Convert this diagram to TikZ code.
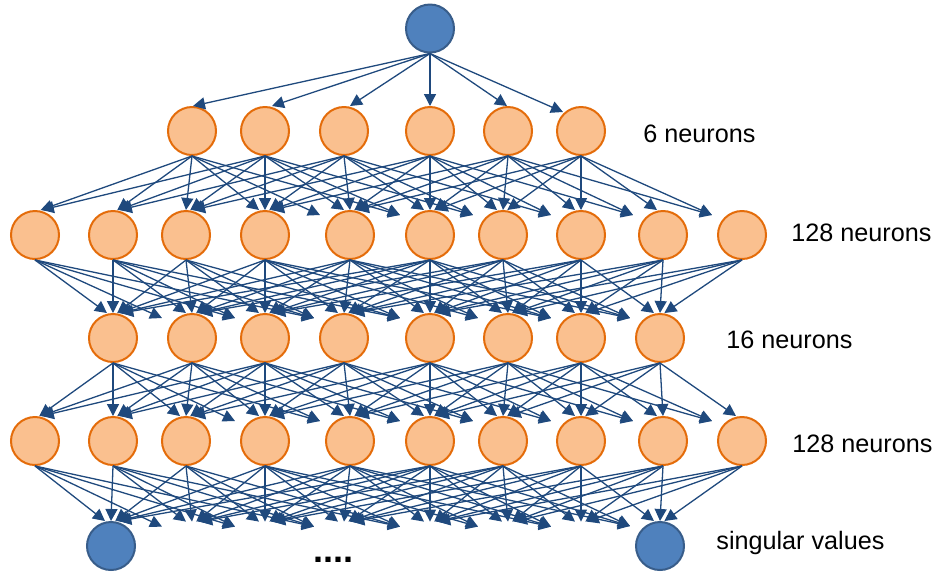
\documentclass[tikz,border=0pt]{standalone}
\usepackage{fontspec}
\setmainfont{Liberation Sans}
\usetikzlibrary{arrows.meta}
\definecolor{conncol}{RGB}{31,73,125}
\definecolor{orfill}{RGB}{250,192,143}
\definecolor{ordraw}{RGB}{228,108,10}
\definecolor{blfill}{RGB}{79,129,189}
\definecolor{bldraw}{RGB}{56,93,138}
\newcommand\linklayer[5]{%
  \foreach \sx [count=\i] in {#2} {
    \foreach \tx [count=\j] in {#4} {
      \pgfmathsetmacro\ddx{\tx-\sx}
      \pgfmathtruncatemacro\okq{abs(\ddx)<=#5 ? 1 : 0}
      \ifnum\okq=1
        \pgfmathsetmacro\offx{abs(\ddx)<20 ? 0 : (\ddx<0 ? 3+abs(\ddx)/60 : (\ddx<=120 ? -6 : -30))}
        \pgfmathsetmacro\offy{\ddx>120 ? 5 : 0}
        \draw[link] (#1\i.south) -- ([shift={(\offx,\offy)}]#3\j.north);
      \fi
    }
  }
}
\begin{document}
\begin{tikzpicture}[x=0.5pt,y=-0.5pt,
  neuron/.style={circle,minimum size=24pt,inner sep=0pt,fill=orfill,draw=ordraw,line width=1pt},
  outneuron/.style={circle,minimum size=24pt,inner sep=0pt,fill=blfill,draw=bldraw,line width=1pt},
  ghost/.style={circle,minimum size=24pt,inner sep=0pt},
  link/.style={draw=conncol,line width=0.65pt,-{Triangle[length=6pt,width=6pt]}},
  lbl/.style={anchor=base west,inner sep=0pt,font=\fontsize{12.6}{15}\selectfont}]
\useasboundingbox (0,0) rectangle (938,575);
% nodes
\node[outneuron] (top) at (430,28.5) {};
\foreach \x [count=\i] in {192,265,344,430,508,581} \node[neuron] (a\i) at (\x,131) {};
\foreach \x [count=\i] in {35,113,186,265,350,430,503,581,663,742} \node[neuron] (b\i) at (\x,235) {};
\foreach \x [count=\i] in {113,192,265,344,430,508,581,660} \node[neuron] (c\i) at (\x,338) {};
\foreach \x [count=\i] in {35,113,186,265,350,430,503,581,663,742} \node[neuron] (d\i) at (\x,441) {};
\node[outneuron] (e1) at (111,546) {};
\foreach \x [count=\i from 2] in {192,265,344,430,508,581} \node[ghost] (e\i) at (\x,546) {};
\node[outneuron] (e8) at (660,546) {};
% connectors
\foreach \i/\sx/\sy in {1/1/0,2/7/0,3/6/0,4/0/0,5/-1/0,6/-18/6}
  \draw[link] (top.south) -- ([shift={(\sx,\sy)}]a\i.north);
\linklayer{a}{192,265,344,430,508,581}{b}{35,113,186,265,350,430,503,581,663,742}{250}
\linklayer{b}{35,113,186,265,350,430,503,581,663,742}{c}{113,192,265,344,430,508,581,660}{320}
\linklayer{c}{113,192,265,344,430,508,581,660}{d}{35,113,186,265,350,430,503,581,663,742}{250}
\linklayer{d}{35,113,186,265,350,430,503,581,663,742}{e}{111,192,265,344,430,508,581,660}{320}
% labels
\node[lbl] (t1) at (643,142) {6 neurons};
\node[lbl] (t2) at (791,241) {128 neurons};
\node[lbl] (t3) at (726,348) {16 neurons};
\node[lbl] (t4) at (792,452) {128 neurons};
\node[lbl] (t5) at (716,549) {singular values};
\node[anchor=base west,inner sep=0pt,font=\fontsize{18}{20}\selectfont\bfseries] (dots) at (313,562) {....};
\end{tikzpicture}
\end{document}
